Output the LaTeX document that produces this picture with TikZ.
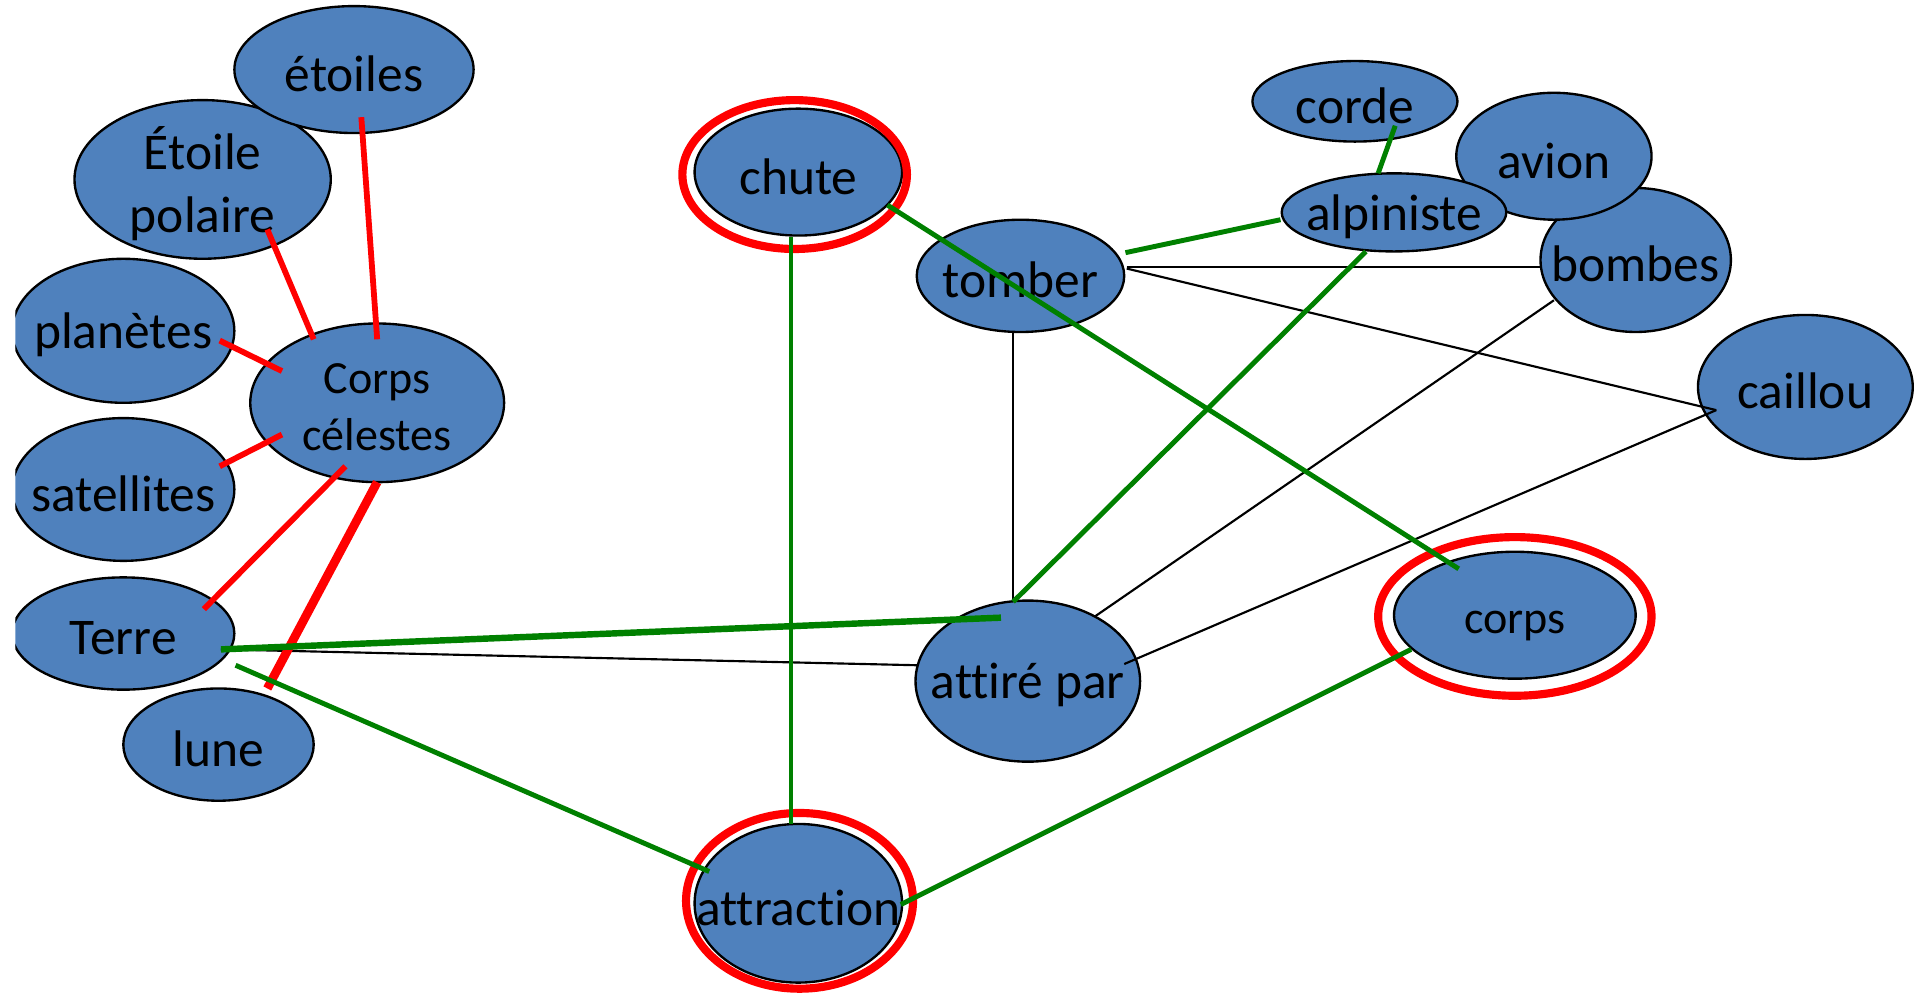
\documentclass[tikz,border=0pt]{standalone}
\usepackage{fontspec}
\setmainfont{Carlito}[Ligatures=NoCommon]
\usetikzlibrary{shapes.geometric,calc}
\definecolor{nodeblue}{HTML}{4F81BD}
\definecolor{linkgreen}{HTML}{008000}
\definecolor{linkred}{HTML}{FF0000}
\newcommand{\bigfont}{\fontsize{24}{29.5}\selectfont}
\newcommand{\smallfont}{\fontsize{21.5}{26.5}\selectfont}

\begin{document}
\begin{tikzpicture}[x=0.02cm, y=-0.02cm,
  blob/.style={ellipse, draw=black, line width=1.1pt, fill=nodeblue, inner sep=0pt, outer sep=0pt},
  ring/.style={ellipse, draw=linkred, line width=3.8pt, inner sep=0pt},
  redlink/.style={draw=linkred, line width=2.7pt},
  greenlink/.style={draw=linkgreen, line width=2.3pt},
  blacklink/.style={draw=black, line width=1pt},
  every label/.style={font=\bigfont, align=center, inner sep=0pt, yshift=-0.07cm}]

\useasboundingbox (0,0) rectangle (1568,813);
\clip (12.5,0) rectangle (1568,813);

%% Left group: celestial bodies
\node[blob, minimum width=4.2cm, minimum height=2.6cm, label={center:Étoile\\polaire}] (polaire) at (166,147) {};
\node[blob, minimum width=3.92cm, minimum height=2.08cm, label={center:étoiles}] (etoiles) at (290,57) {};
\node[blob, minimum width=3.64cm, minimum height=2.36cm, label={center:planètes}] (planetes) at (101,271) {};
\node[blob, minimum width=4.16cm, minimum height=2.6cm, label={[font=\smallfont]center:Corps\\célestes}] (celestes) at (309,330) {};
\node[blob, minimum width=3.64cm, minimum height=2.34cm, label={center:satellites}] (satellites) at (101,401) {};
\node[blob, minimum width=3.64cm, minimum height=1.84cm, label={center:Terre}] (terre) at (101,519) {};
\node[blob, minimum width=3.12cm, minimum height=1.84cm, label={center:lune}] (lune) at (179,610) {};

%% Middle: chute, tomber, attiré par, attraction
\node[blob, minimum width=3.4cm, minimum height=2.08cm, label={center:chute}] (chute) at (654,141) {};
\node[blob, minimum width=3.4cm, minimum height=1.84cm, label={center:tomber}] (tomber) at (836,226) {};
\node[blob, minimum width=3.68cm, minimum height=2.64cm, label={center:attiré par}] (attire) at (842,558) {};
\node[blob, minimum width=3.4cm, minimum height=2.6cm, label={center:attraction}] (attraction) at (654,740) {};

%% Right group: things that fall
\node[blob, minimum width=3.36cm, minimum height=1.32cm, label={center:corde}] (corde) at (1110,83) {};
\node[blob, minimum width=3.12cm, minimum height=2.36cm, label={center:bombes}] (bombes) at (1340,213) {};
\node[blob, minimum width=3.2cm, minimum height=2.08cm, label={center:avion}] (avion) at (1273,128) {};
\node[blob, minimum width=3.68cm, minimum height=1.28cm, label={center:alpiniste}] (alpiniste) at (1142,174) {};
\node[blob, minimum width=3.52cm, minimum height=2.36cm, label={center:caillou}] (caillou) at (1479,317) {};
\node[blob, minimum width=3.96cm, minimum height=2.08cm, label={[font=\smallfont, yshift=-0.1cm]center:corps}] (corps) at (1241,504) {};

%% Red rings round the key words
\node[ring, minimum width=3.68cm, minimum height=2.44cm] (chuteRing) at ($ (chute) + (-3,2) $) {};
\node[ring, minimum width=3.72cm, minimum height=2.88cm] (attractionRing) at ($ (attraction) + (1,-2) $) {};
\node[ring, minimum width=4.48cm, minimum height=2.6cm] (corpsRing) at ($ (corps) + (0,1) $) {};

%% Black links
\draw[blacklink] ($ (tomber) + (87,-7) $) -- ($ (bombes) + (-78,6) $);
\draw[blacklink] ($ (tomber) + (87,-6) $) -- ($ (caillou) + (-73,19) $);
\draw[blacklink] ($ (tomber) + (-6,46) $) -- ($ (attire) + (-12,-65) $);
\draw[blacklink] ($ (bombes) + (-67,33) $) -- ($ (attire) + (55,-53) $);
\draw[blacklink] ($ (caillou) + (-73,19) $) -- ($ (attire) + (79,-14) $);
\draw[blacklink] ($ (terre) + (80,13) $) -- ($ (attire) + (-90,-13) $);

%% Red links to Corps celestes
\draw[redlink] ($ (etoiles) + (6,39) $) -- ($ (celestes) + (0,-52) $);
\draw[redlink] ($ (polaire) + (53,41) $) -- ($ (celestes) + (-52,-52) $);
\draw[redlink] ($ (planetes) + (79,8) $) -- ($ (celestes) + (-78,-26) $);
\draw[redlink] ($ (satellites) + (79,-19) $) -- ($ (celestes) + (-78,26) $);
\draw[redlink] ($ (terre) + (66,-20) $) -- ($ (celestes) + (-26,52) $);
\draw[redlink, line width=4.1pt] ($ (lune) + (40,-46) $) -- ($ (celestes) + (0,65) $);

%% Green links
\draw[greenlink] ($ (chute) + (-6,53) $) -- ($ (attraction) + (-6,-65) $);
\draw[greenlink] ($ (chute) + (73,27) $) -- ($ (corps) + (-46,-38) $);
\draw[greenlink] ($ (tomber) + (86,-19) $) -- ($ (alpiniste) + (-93,6) $);
\draw[greenlink] ($ (corde) + (33,20) $) -- ($ (alpiniste) + (-13,-32) $);
\draw[greenlink] ($ (alpiniste) + (-23,32) $) -- ($ (attire) + (-12,-65) $);
\draw[greenlink, line width=3pt] ($ (terre) + (80,13) $) -- ($ (attire) + (-22,-52) $);
\draw[greenlink] ($ (terre) + (92,26) $) -- ($ (attraction) + (-73,-26) $);
\draw[greenlink] ($ (attraction) + (84,1) $) -- ($ (corps) + (-85,28) $);

\end{tikzpicture}
\end{document}
